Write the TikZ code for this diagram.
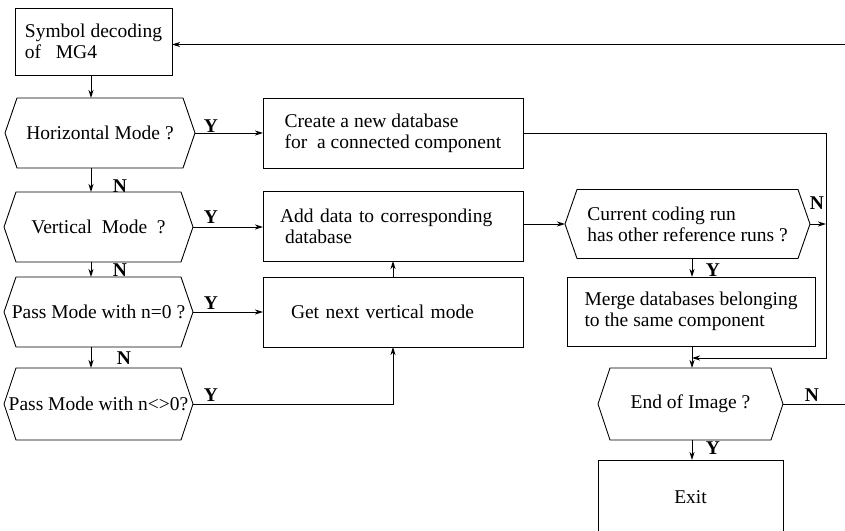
\documentclass[tikz,border=0pt]{standalone}
\usepackage{fontspec}
\setmainfont{Liberation Serif}
\usetikzlibrary{arrows.meta}
\newcommand\hexo[1]{\draw[ln] ([xshift=12pt]#1.north west) -- ([xshift=-12pt]#1.north east) -- (#1.east) -- ([xshift=-12pt]#1.south east) -- ([xshift=12pt]#1.south west) -- (#1.west) -- cycle;}
\begin{document}
\begin{tikzpicture}[x=1pt,y=-1pt,
  every node/.style={font=\fontsize{19.5}{21}\selectfont, inner sep=0pt, outer sep=0pt},
  ln/.style={line width=0.9pt},
  box/.style 2 args={draw, line width=0.9pt, minimum width=#1, minimum height=#2},
  hexn/.style 2 args={minimum width=#1, minimum height=#2},
  arr/.style={line width=0.9pt, -{Stealth[length=8pt,width=5pt,inset=2.5pt]}},
  lbl/.style={font=\fontsize{19.5}{21}\selectfont\bfseries}]
\useasboundingbox (0,0) rectangle (845,530);
% boxes
\node[box={157pt}{67pt}, align=left] (sym) at (93.5,41.5) {Symbol decoding\\of~~ MG4};
\node[box={260pt}{70pt}, align=left] (c1) at (393,133.5) {Create a new database\\for~ a connected component};
\node[box={260pt}{70pt}, align=left, text width=226pt] (c2) at (393,226) {Add data to corresponding\\\hspace*{5pt}database};
\node[box={260pt}{70pt}, align=left, text width=204pt] (c3) at (393,312) {Get next vertical mode};
\node[box={248pt}{69pt}, align=left] (m) at (691,311.5) {Merge databases belonging\\to the same component};
\node[box={185pt}{75pt}] (exit) at (690.5,497.5) {Exit};
% hexagons
\node[hexn={190pt}{70pt}] (h1) at (100,133) {Horizontal Mode ?};
\node[hexn={189pt}{70pt}] (h2) at (98.5,227) {Vertical~ Mode~ ?};
\node[hexn={189pt}{70pt}] (h3) at (98.5,312) {Pass Mode with n=0 ?};
\node[hexn={189pt}{72pt}] (h4) at (98.5,404) {Pass Mode with n<>0?};
\node[hexn={245pt}{69pt}, align=left] (h5) at (687.5,224) {Current coding run\\has other reference runs ?};
\node[hexn={185pt}{72pt}] (h6) at (690.5,404) {End of Image ?};
\hexo{h1}\hexo{h2}\hexo{h3}\hexo{h4}\hexo{h5}\hexo{h6}
% helper coordinates
\coordinate (vx) at (91,0);
\coordinate (vr) at (826,0);
\coordinate (vm) at (692,0);
\coordinate (jn) at (826,358);
\coordinate (far) at (849,0);
\coordinate (topl) at (849,44.5);
% connectors
\draw[arr] (sym.south -| vx) -- (h1.north -| vx);
\draw[arr] (h1.east) -- (h1.east -| c1.west);
\draw[arr] (h1.south -| vx) -- (h2.north -| vx);
\draw[arr] (h2.east) -- (h2.east -| c2.west);
\draw[arr] (h2.south -| vx) -- (h3.north -| vx);
\draw[arr] (h3.east) -- (h3.east -| c3.west);
\draw[arr] (h3.south -| vx) -- (h4.north -| vx);
\draw[arr] (h4.east) -| (c3.south);
\draw[arr] (c3.north) -- (c2.south);
\draw[arr] (h5.west -| c2.east) -- (h5.west);
\draw[arr] (h5.east) -- (h5.east -| vr);
\draw[arr] (c1.east) -- (c1.east -| jn) -- (jn) -- (jn -| vm);
\draw[arr] (h5.south -| vm) -- (m.north -| vm);
\draw[arr] (m.south -| vm) -- (h6.north -| vm);
\draw[arr] (h6.south -| vm) -- (exit.north -| vm);
\draw[arr] (h6.east) -- (h6.east -| far) -- (topl) -- (topl -| sym.east);
% labels
\node[lbl] (y1) at (211,126) {Y};
\node[lbl] (n1) at (120,186) {N};
\node[lbl] (y2) at (211,217) {Y};
\node[lbl] (n2) at (120,270) {N};
\node[lbl] (y3) at (211,303) {Y};
\node[lbl] (n3) at (124,358) {N};
\node[lbl] (y4) at (211,395) {Y};
\node[lbl] (n5) at (817,203) {N};
\node[lbl] (y5) at (713,270) {Y};
\node[lbl] (n6) at (812,395) {N};
\node[lbl] (y6) at (713,448) {Y};
\end{tikzpicture}
\end{document}
